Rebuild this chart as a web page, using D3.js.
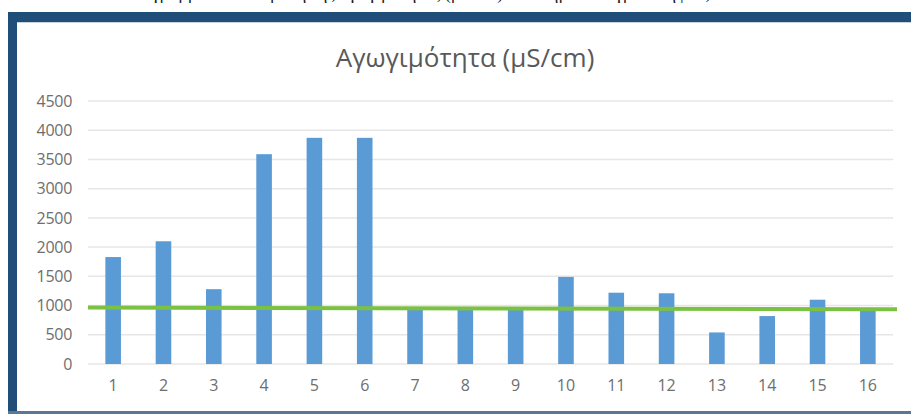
<!DOCTYPE html>
<html>
<head>
<meta charset="utf-8">
<script src="https://cdn.jsdelivr.net/npm/d3@7"></script>
<style>
  html, body { margin: 0; padding: 0; background: #ffffff; }
  svg { display: block; }
</style>
</head>
<body>
<svg id="chart" width="911" height="414"></svg>
<script>
// Conductivity per sampling point (μS/cm)
const categories = ["1","2","3","4","5","6","7","8","9","10","11","12","13","14","15","16"];
const conductivity = [1830, 2100, 1280, 3590, 3870, 3870, 940, 940, 940, 1490, 1220, 1210, 540, 820, 1100, 940];
const yTicks = [0, 500, 1000, 1500, 2000, 2500, 3000, 3500, 4000, 4500];
// Limit line, value at its left and right ends
const limitLine = [965, 935];
const chartTitle = "Αγωγιμότητα (μS/cm)";
const captionAbove = "Διάγραμμα 3: Μεταβολή της αγωγιμότητας (μS/cm) ανά σημείο δειγματοληψίας";

const svg = d3.select("#chart");
const W = 911, H = 414;
const plot = { left: 88, right: 893, top: 101, bottom: 364 };

// caption of the page, mostly cut off at the top edge
svg.append("text")
  .attr("x", 126).attr("y", -1)
  .attr("font-family", "Liberation Serif, serif")
  .attr("font-size", 18)
  .attr("fill", "#222")
  .text(captionAbove);

// chart frame
svg.append("rect").attr("x", 8).attr("y", 12).attr("width", W - 8).attr("height", 10).attr("fill", "#1f4e79");
svg.append("rect").attr("x", 8).attr("y", 12).attr("width", 9).attr("height", H - 12).attr("fill", "#1f4e79");
svg.append("rect").attr("x", 8).attr("y", 411).attr("width", W - 8).attr("height", 3).attr("fill", "#5d7792");
svg.append("line").attr("x1", 17).attr("x2", W).attr("y1", 22.5).attr("y2", 22.5).attr("stroke", "#c9d3dd").attr("stroke-width", 1);

const x = d3.scaleBand().domain(categories).range([plot.left, plot.right]).paddingInner(0.69).paddingOuter(0.345);
const y = d3.scaleLinear().domain([0, 4500]).range([plot.bottom, plot.top]);

// gridlines
svg.append("g")
  .selectAll("line")
  .data(yTicks)
  .join("line")
  .attr("x1", plot.left).attr("x2", plot.right)
  .attr("y1", d => y(d)).attr("y2", d => y(d))
  .attr("stroke", "#e6e6e6").attr("stroke-width", 1.5);

// y axis labels
const yAxis = d3.axisLeft(y).tickValues(yTicks).tickSize(0).tickPadding(0).tickFormat(d3.format("d"));
svg.append("g")
  .attr("transform", `translate(${72},0)`)
  .call(yAxis)
  .call(g => g.select(".domain").remove())
  .call(g => g.selectAll("text")
    .attr("font-family", "Open Sans, sans-serif")
    .attr("font-size", 16)
    .attr("letter-spacing", -0.3)
    .attr("fill", "#6e6e6e"));

// x axis labels
const xAxis = d3.axisBottom(x).tickSize(0).tickPadding(0);
svg.append("g")
  .attr("transform", `translate(0,${380})`)
  .call(xAxis)
  .call(g => g.select(".domain").remove())
  .call(g => g.selectAll("text")
    .attr("font-family", "Open Sans, sans-serif")
    .attr("font-size", 16)
    .attr("fill", "#6e6e6e"));

// bars
svg.append("g")
  .selectAll("rect")
  .data(categories.map((c, i) => ({ c, v: conductivity[i] })))
  .join("rect")
  .attr("x", d => x(d.c))
  .attr("width", x.bandwidth())
  .attr("y", d => y(d.v))
  .attr("height", d => y(0) - y(d.v))
  .attr("fill", "#5b9bd5");

// limit line
svg.append("line")
  .attr("x1", plot.left).attr("x2", 897)
  .attr("y1", y(limitLine[0])).attr("y2", y(limitLine[1]))
  .attr("stroke", "#7cc242").attr("stroke-width", 4);

// title
svg.append("text")
  .attr("x", 465).attr("y", 67)
  .attr("text-anchor", "middle")
  .attr("font-family", "Open Sans, sans-serif")
  .attr("font-size", 26)
  .attr("fill", "#595959")
  .text(chartTitle);
</script>
</body>
</html>
